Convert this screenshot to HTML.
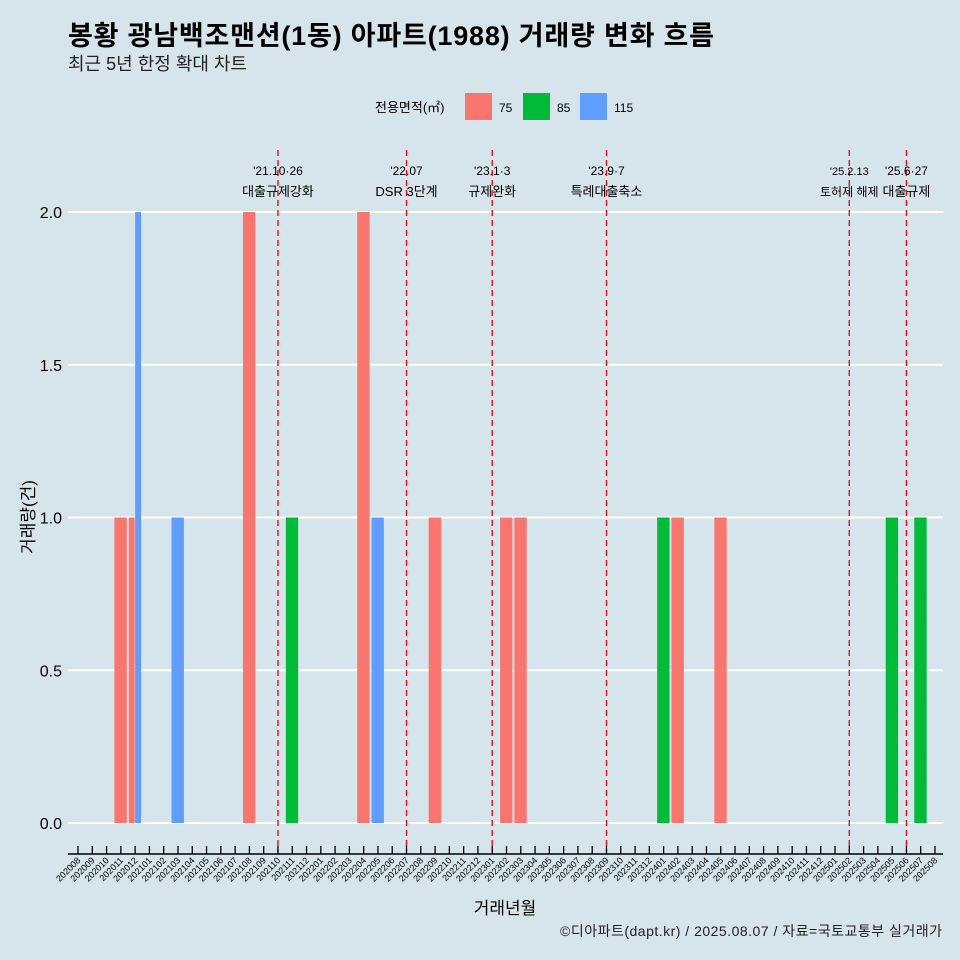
<!DOCTYPE html>
<html><head><meta charset="utf-8"><style>
body{margin:0;background:#d6e4eb;}
svg{display:block;font-family:"Liberation Sans","Noto Sans CJK KR",sans-serif;}
</style></head><body>
<svg id="c" width="960" height="960">
<rect width="960" height="960" fill="#d6e4eb"/>
<text x="68" y="45" font-size="27" font-weight="bold" fill="#000" textLength="646">봉황 광남백조맨션(1동) 아파트(1988) 거래량 변화 흐름</text>
<text x="68" y="70" font-size="18" fill="#222">최근 5년 한정 확대 차트</text>
<g>
<text x="375" y="112" font-size="13">전용면적(㎡)</text>
<rect x="465" y="93" width="27" height="27" fill="#f8766d"/>
<text x="499" y="112" font-size="12">75</text>
<rect x="523" y="93" width="27" height="27" fill="#00ba38"/>
<text x="557" y="112" font-size="12">85</text>
<rect x="580" y="93" width="27" height="27" fill="#619cff"/>
<text x="614" y="112" font-size="12">115</text>
</g>
<g id="grid"></g><g id="bars"></g><g id="vl"></g><g id="ax"></g>
<text x="505" y="914" font-size="17" text-anchor="middle">거래년월</text>
<text transform="translate(34,517) rotate(-90)" font-size="17" text-anchor="middle">거래량(건)</text>
<text x="942" y="936" font-size="14" text-anchor="end" fill="#222" textLength="382">©디아파트(dapt.kr) / 2025.08.07 / 자료=국토교통부 실거래가</text>
</svg>
<script>
const months=[];for(let y=2020;y<=2025;y++)for(let m=1;m<=12;m++){const s=y*100+m;if(s>=202008&&s<=202508)months.push(String(s));}
const barMonths=["202011","202012","202012","202103","202108","202111","202204","202205","202209","202302","202303","202401","202402","202405","202505","202507"];
const barSizes=["75","75","115","115","75","85","75","115","75","75","75","85","75","75","85","85"];
const barValues=[1,1,2,1,2,1,2,1,1,1,1,1,1,1,1,1];
const yTicks=[0,0.5,1,1.5,2];
const yTickLabels=["0.0","0.5","1.0","1.5","2.0"];
const eventMonths=["202110","202207","202301","202309","202502","202506"];
const eventLine1=["'21.10·26","'22.07","'23.1·3","'23.9·7","'25.2.13","'25.6·27"];
const eventLine2=["대출규제강화","DSR 3단계","규제완화","특례대출축소","토허제 해제","대출규제"];
const colors={"75":"#f8766d","85":"#00ba38","115":"#619cff"};
const NS="http://www.w3.org/2000/svg";
const x0=78,step=(935-78)/60;
const xs=m=>x0+step*months.indexOf(m);
const ys=v=>823-v*305.5;
function mk(p,t,a){const e=document.createElementNS(NS,t);for(const k in a)e.setAttribute(k,a[k]);document.getElementById(p).appendChild(e);return e;}
yTicks.forEach((v,i)=>{
 const l=mk('grid','line',{x1:68,x2:943,y1:ys(v),y2:ys(v),stroke:'#fff','stroke-width':2});
 
 
 const t=mk('grid','text',{x:62,y:ys(v)+6,'font-size':16,'text-anchor':'end'});t.textContent=yTickLabels[i];
 
 
});
const bw=step*0.9;
barMonths.forEach((m,i)=>{
 const n=barMonths.filter(q=>q===m).length;
 const k=barMonths.slice(0,i).filter(q=>q===m).length;
 const w=bw/n;const left=xs(m)-bw/2+k*w;
 const r=mk('bars','rect',{x:left,y:ys(barValues[i]),width:w-0.5,height:ys(0)-ys(barValues[i]),fill:colors[barSizes[i]]});
 
 
});
eventMonths.forEach((m,i)=>{
 const x=xs(m);
 const l=mk('vl','line',{x1:x,x2:x,y1:150,y2:852,stroke:'#e8101a','stroke-width':1.4,'stroke-dasharray':'6,4'});
 
 
 const fs=(i===4)?11:12;
 const t1=mk('vl','text',{x:x,y:175,'font-size':fs,'text-anchor':'middle'});t1.textContent=eventLine1[i];
 
 
 const t2=mk('vl','text',{x:x,y:196,'font-size':fs+1,'text-anchor':'middle'});t2.textContent=eventLine2[i];
 
 
});
const a=mk('ax','line',{x1:68,x2:943,y1:854,y2:854,stroke:'#000','stroke-width':1.5});


months.forEach(m=>{
 const x=xs(m);
 const t=mk('ax','line',{x1:x,x2:x,y1:846,y2:854,stroke:'#000','stroke-width':1.3});
 
 
 const lb=mk('ax','text',{x:x+3,y:861,'font-size':9,'text-anchor':'end',transform:`rotate(-45 ${x+3} 861)`});lb.textContent=m;
 
 
});
</script>
</body></html>
